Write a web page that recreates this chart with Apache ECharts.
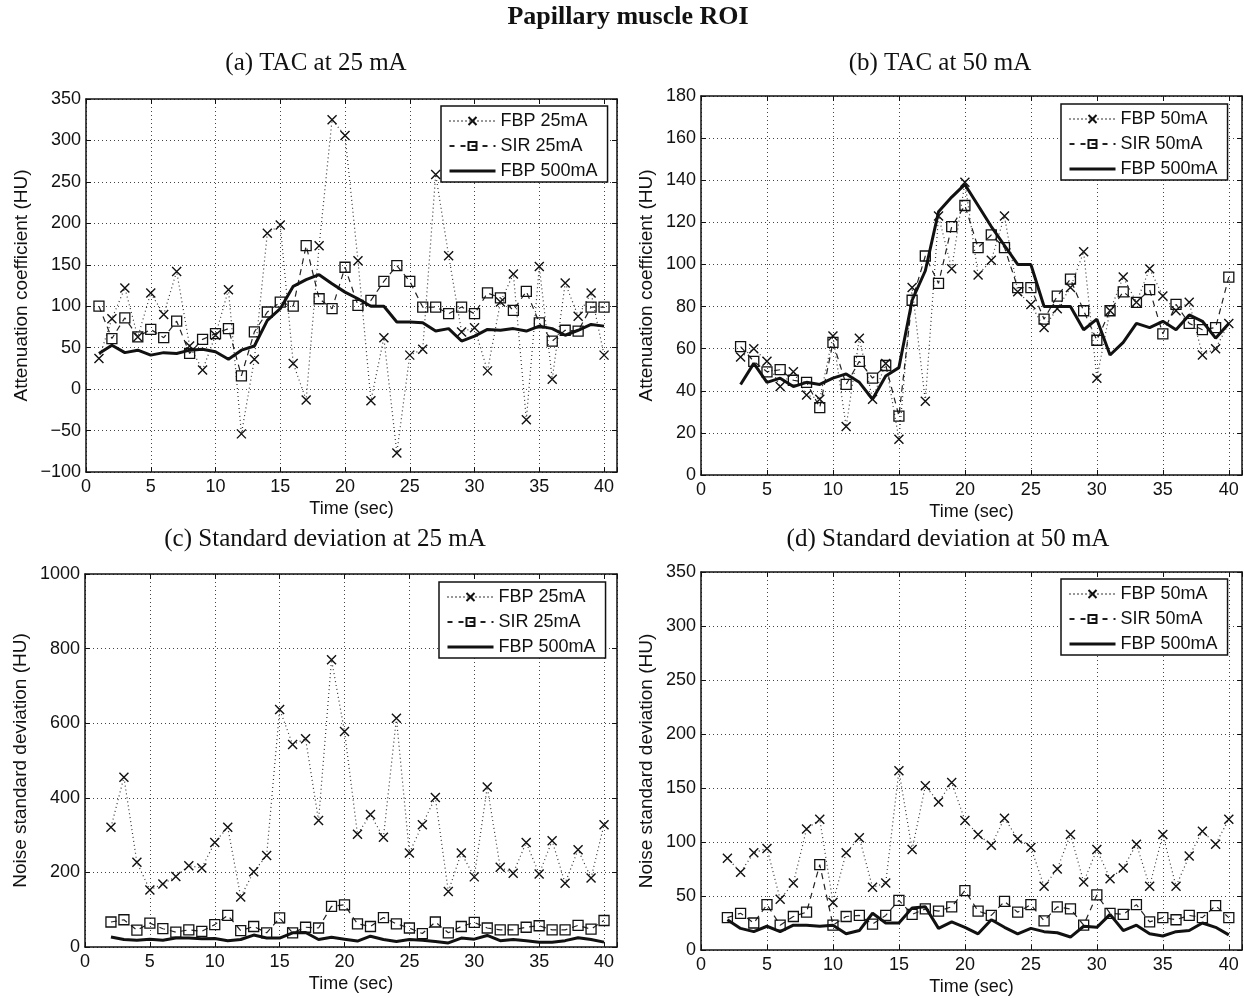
<!DOCTYPE html>
<html>
<head>
<meta charset="utf-8">
<script src="https://cdn.jsdelivr.net/npm/echarts@6/dist/echarts.min.js"></script>
<style>
html, body { margin: 0; padding: 0; background: #fff; }
#main { width: 1244px; height: 998px; }
</style>
</head>
<body>
<div id="main"></div>
<script>
// time points (sec) of each panel
var timeA = [1, 2, 3, 4, 5, 6, 7, 8, 9, 10, 11, 12, 13, 14, 15, 16, 17, 18, 19, 20,
    21, 22, 23, 24, 25, 26, 27, 28, 29, 30, 31, 32, 33, 34, 35, 36, 37, 38, 39, 40];
var timeB = [3, 4, 5, 6, 7, 8, 9, 10, 11, 12, 13, 14, 15, 16, 17, 18, 19, 20,
    21, 22, 23, 24, 25, 26, 27, 28, 29, 30, 31, 32, 33, 34, 35, 36, 37, 38, 39, 40];
var timeCD = [2, 3, 4, 5, 6, 7, 8, 9, 10, 11, 12, 13, 14, 15, 16, 17, 18, 19, 20,
    21, 22, 23, 24, 25, 26, 27, 28, 29, 30, 31, 32, 33, 34, 35, 36, 37, 38, 39, 40];

// (a) TAC at 25 mA
var fbp25Tac = [37, 85, 122, 63, 116, 90, 142, 52, 23, 65, 120, -54, 36, 188, 198, 31, -13, 173, 325, 306,
    155, -14, 62, -77, 41, 48, 259, 161, 69, 74, 22, 105, 139, -37, 148, 12, 128, 88, 116, 41];
var sir25Tac = [100, 61, 86, 63, 72, 62, 82, 43, 60, 67, 73, 16, 69, 93, 105, 100, 173, 109, 97, 147,
    101, 107, 130, 149, 130, 99, 99, 91, 99, 91, 116, 110, 95, 118, 80, 58, 71, 70, 99, 99];
var fbp500TacA = [43, 53, 44, 47, 41, 44, 43, 47, 48, 45, 36, 47, 52, 83, 97, 124, 132, 138, 127, 117,
    109, 100, 100, 81, 81, 80, 70, 73, 58, 64, 72, 71, 73, 70, 76, 73, 65, 71, 78, 76];

// (b) TAC at 50 mA
var fbp50Tac = [56, 60, 54, 42, 49, 38, 36, 66, 23, 65, 36, 53, 17, 89, 35, 123, 98, 139, 95, 102,
    123, 87, 81, 70, 79, 89, 106, 46, 78, 94, 82, 98, 85, 78, 82, 57, 60, 72];
var sir50Tac = [61, 54, 49, 50, 45, 44, 32, 63, 43, 54, 46, 52, 28, 83, 104, 91, 118, 128, 108, 114,
    108, 89, 89, 74, 85, 93, 78, 64, 78, 87, 82, 88, 67, 81, 72, 69, 70, 94];
var fbp500TacB = [43, 53, 44, 46, 42, 44, 43, 46, 48, 44, 36, 47, 51, 83, 97, 125, 132, 138, 128, 118,
    109, 100, 100, 80, 80, 80, 69, 74, 57, 63, 72, 70, 73, 69, 76, 73, 65, 72];

// (c) Standard deviation at 25 mA
var fbp25Std = [321, 455, 227, 153, 169, 189, 218, 212, 280, 321, 134, 202, 245, 637, 543, 558, 339, 770, 578, 302,
    355, 294, 613, 252, 328, 401, 149, 252, 188, 429, 214, 198, 280, 196, 285, 171, 261, 185, 328];
var sir25Std = [67, 73, 45, 64, 49, 40, 46, 42, 60, 85, 44, 55, 38, 78, 38, 53, 51, 109, 113, 62,
    55, 79, 62, 51, 36, 67, 38, 55, 66, 51, 46, 46, 53, 57, 46, 46, 58, 48, 71];
var fbp500StdC = [27, 20, 18, 21, 18, 24, 24, 22, 23, 17, 20, 32, 24, 24, 38, 39, 20, 26, 21, 16,
    29, 20, 15, 20, 18, 15, 11, 24, 21, 31, 17, 20, 17, 13, 13, 17, 25, 20, 13];

// (d) Standard deviation at 50 mA
var fbp50Std = [85, 72, 90, 94, 47, 62, 112, 121, 44, 90, 104, 58, 62, 166, 93, 152, 137, 155, 120, 107,
    97, 122, 103, 95, 59, 75, 107, 63, 93, 66, 76, 98, 59, 107, 59, 87, 110, 98, 121];
var sir50Std = [30, 34, 25, 42, 23, 31, 35, 79, 23, 31, 32, 24, 32, 46, 33, 38, 36, 40, 55, 36,
    32, 45, 35, 42, 27, 40, 38, 23, 51, 34, 33, 42, 26, 30, 28, 32, 30, 41, 30];
var fbp500StdD = [28, 20, 17, 22, 17, 23, 23, 22, 23, 15, 18, 34, 25, 25, 39, 40, 20, 26, 21, 15,
    28, 21, 15, 20, 17, 16, 12, 22, 21, 33, 18, 23, 15, 13, 17, 18, 25, 21, 14];

// y ranges [min, max, step]
var yRangeA = [-100, 350, 50];
var yRangeB = [0, 180, 20];
var yRangeC = [0, 1000, 200];
var yRangeD = [0, 350, 50];
var xRange = [0, 41, 5];

var names25 = ['FBP 25mA', 'SIR 25mA', 'FBP 500mA'];
var names50 = ['FBP 50mA', 'SIR 50mA', 'FBP 500mA'];

var sans = 'Liberation Sans, Arial, Helvetica, sans-serif';
var serif = 'Liberation Serif, Times New Roman, serif';
var xMark = 'path://M0,0L10,10M10,0L0,10';

var panels = [
    {rect: [86, 99, 531, 373], t: timeA, y: yRangeA, vals: [fbp25Tac, sir25Tac, fbp500TacA], names: names25,
        yName: 'Attenuation coefficient (HU)', nameGap: 55, legend: [441, 106]},
    {rect: [701, 96, 541, 379], t: timeB, y: yRangeB, vals: [fbp50Tac, sir50Tac, fbp500TacB], names: names50,
        yName: 'Attenuation coefficient (HU)', nameGap: 45, legend: [1061, 104]},
    {rect: [85, 574, 532, 373], t: timeCD, y: yRangeC, vals: [fbp25Std, sir25Std, fbp500StdC], names: names25,
        yName: 'Noise standard deviation (HU)', nameGap: 55, legend: [439, 582]},
    {rect: [701, 572, 541, 378], t: timeCD, y: yRangeD, vals: [fbp50Std, sir50Std, fbp500StdD], names: names50,
        yName: 'Noise standard deviation (HU)', nameGap: 45, legend: [1061, 579]}
];

function toPairs(t, v) {
    var out = [];
    for (var i = 0; i < t.length; i++) {
        out.push([t[i], v[i]]);
    }
    return out;
}

var boxLine = {show: true, onZero: false, lineStyle: {color: '#111', width: 1.5}};
var tick = {show: true, inside: true, length: 5, lineStyle: {color: '#111', width: 1}};
var dotGrid = {show: true, lineStyle: {type: [1, 3], color: '#444', width: 1}};

function makeX(gi, pos) {
    var bottom = pos == 'bottom';
    return {
        type: 'value', gridIndex: gi, position: pos,
        min: xRange[0], max: xRange[1], interval: xRange[2],
        axisLine: boxLine, axisTick: tick,
        splitLine: bottom ? dotGrid : {show: false},
        axisLabel: {
            show: bottom, margin: 6, fontFamily: sans, fontSize: 18, color: '#111',
            formatter: function (v) { return v % 5 === 0 ? String(v) : ''; }
        },
        name: bottom ? 'Time (sec)' : '', nameLocation: 'middle', nameGap: 28,
        nameTextStyle: {fontFamily: sans, fontSize: 18, color: '#111'}
    };
}

function makeY(gi, pos, p) {
    var left = pos == 'left';
    return {
        type: 'value', gridIndex: gi, position: pos,
        min: p.y[0], max: p.y[1], interval: p.y[2],
        axisLine: boxLine, axisTick: tick,
        splitLine: left ? dotGrid : {show: false},
        axisLabel: {
            show: left, margin: 5, fontFamily: sans, fontSize: 18, color: '#111',
            formatter: function (v) { return String(v).replace('-', '\u2212'); }
        },
        name: left ? p.yName : '', nameLocation: 'middle', nameGap: p.nameGap,
        nameTextStyle: {fontFamily: sans, fontSize: 19, color: '#111'}
    };
}

var grids = [], xAxes = [], yAxes = [], series = [], legends = [];
for (var i = 0; i < panels.length; i++) {
    var p = panels[i];
    grids.push({left: p.rect[0], top: p.rect[1], width: p.rect[2], height: p.rect[3],
        show: false, containLabel: false, outerBoundsMode: 'none'});
    xAxes.push(makeX(i, 'bottom'));
    xAxes.push(makeX(i, 'top'));
    yAxes.push(makeY(i, 'left', p));
    yAxes.push(makeY(i, 'right', p));

    // low dose FBP: dotted with x markers
    series.push({
        name: p.names[0], type: 'line', xAxisIndex: 2 * i, yAxisIndex: 2 * i,
        data: toPairs(p.t, p.vals[0]),
        symbol: xMark, symbolSize: 9,
        itemStyle: {color: 'rgba(0,0,0,0)', borderColor: '#111', borderWidth: 1.4},
        lineStyle: {type: [1, 3], width: 1.2, color: '#333'},
        z: 2
    });
    // low dose SIR: dashed with open squares
    series.push({
        name: p.names[1], type: 'line', xAxisIndex: 2 * i, yAxisIndex: 2 * i,
        data: toPairs(p.t, p.vals[1]),
        symbol: 'rect', symbolSize: 10,
        itemStyle: {color: 'rgba(0,0,0,0)', borderColor: '#111', borderWidth: 1.3},
        lineStyle: {type: [6, 5], width: 1.2, color: '#222'},
        z: 3
    });
    // reference FBP 500mA: thick solid
    series.push({
        name: p.names[2], type: 'line', xAxisIndex: 2 * i, yAxisIndex: 2 * i,
        data: toPairs(p.t, p.vals[2]),
        symbol: 'circle', showSymbol: false,
        itemStyle: {color: 'rgba(0,0,0,0)', borderWidth: 0},
        lineStyle: {width: 3, color: '#111'},
        z: 4
    });

    legends.push({
        data: [
            {name: p.names[0]},
            {name: p.names[1], lineStyle: {type: [5, 6]}},
            {name: p.names[2], lineStyle: {width: 3}}
        ],
        left: p.legend[0], top: p.legend[1], orient: 'vertical', align: 'left',
        itemWidth: 46, itemHeight: 10, itemGap: 7, padding: [6, 10, 2, 7],
        borderColor: '#111', borderWidth: 1.5, backgroundColor: '#fff',
        selectedMode: false, z: 10,
        textStyle: {fontFamily: sans, fontSize: 18, lineHeight: 16, color: '#111'}
    });
}

function subTitle(text, x, y) {
    return {text: text, left: x, top: y, textAlign: 'center', textVerticalAlign: 'middle', padding: 0,
        textStyle: {fontFamily: serif, fontWeight: 'normal', fontSize: 25, color: '#111'}};
}

var option = {
    animation: false,
    backgroundColor: '#fff',
    title: [
        {text: 'Papillary muscle ROI', left: 628, top: 17, textAlign: 'center', textVerticalAlign: 'middle', padding: 0,
            textStyle: {fontFamily: serif, fontWeight: 'bold', fontSize: 26, color: '#111'}},
        subTitle('(a) TAC at 25 mA', 316, 63),
        subTitle('(b) TAC at 50 mA', 940, 63),
        subTitle('(c) Standard deviation at 25 mA', 325, 539),
        subTitle('(d) Standard deviation at 50 mA', 948, 539)
    ],
    legend: legends,
    grid: grids,
    xAxis: xAxes,
    yAxis: yAxes,
    series: series
};

var chart = echarts.init(document.getElementById('main'));
chart.setOption(option);
</script>
</body>
</html>
